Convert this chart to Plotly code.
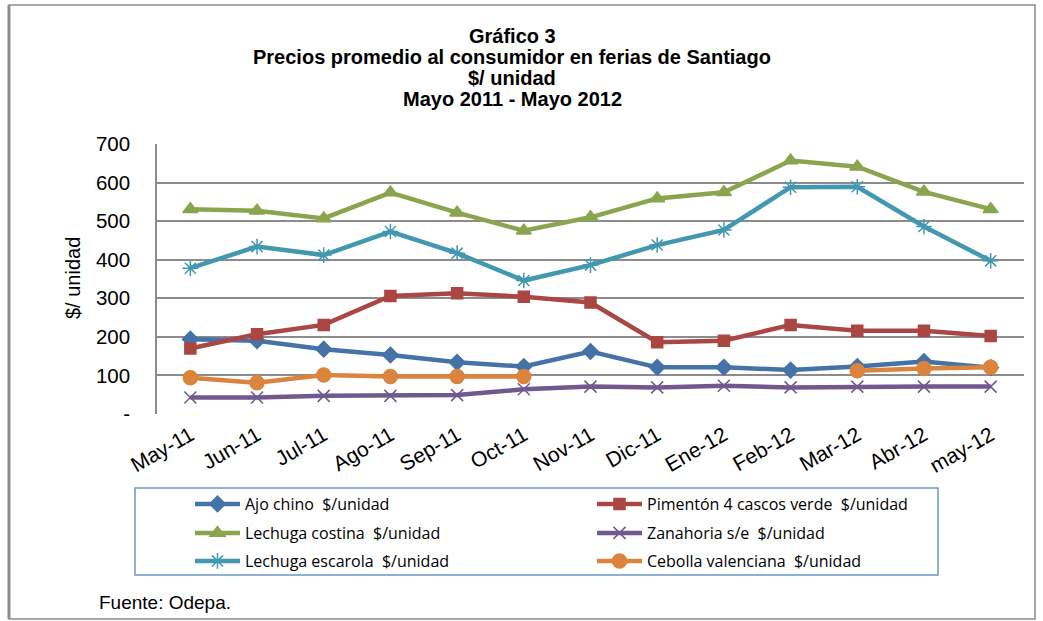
import plotly.graph_objects as go

categories = ["May-11", "Jun-11", "Jul-11", "Ago-11", "Sep-11", "Oct-11", "Nov-11",
              "Dic-11", "Ene-12", "Feb-12", "Mar-12", "Abr-12", "may-12"]

ajo_chino = [194, 190, 168, 153, 134, 123, 162, 121, 121, 114, 123, 136, 120]
pimenton = [170, 207, 231, 306, 313, 304, 289, 186, 190, 231, 216, 216, 202]
lechuga_costina = [531, 527, 507, 574, 522, 475, 510, 559, 575, 657, 641, 576, 531]
zanahoria = [43, 43, 47, 47, 49, 64, 71, 69, 73, 69, 71, 71, 71]
lechuga_escarola = [378, 434, 412, 473, 417, 346, 386, 438, 477, 588, 589, 486, 397]
cebolla = [94, 81, 101, 97, 97, 97, None, None, None, None, 112, 118, 121]

names = ["Ajo chino  $/unidad", "Pimentón 4 cascos verde  $/unidad",
         "Lechuga costina  $/unidad", "Zanahoria s/e  $/unidad",
         "Lechuga escarola  $/unidad", "Cebolla valenciana  $/unidad"]

ytick_vals = [0, 100, 200, 300, 400, 500, 600, 700]
ytick_text = ["-", "100", "200", "300", "400", "500", "600", "700"]

title_lines = ["Gráfico 3", "Precios promedio al consumidor en ferias de Santiago",
               "$/ unidad", "Mayo 2011 - Mayo 2012"]

W, H = 1043, 621
L, R, T, B = 157, 1024, 144, 414
pw, ph = R - L, B - T

def px(x):
    return (x - L) / pw

def py(y):
    return (B - y) / ph

FONT = "Liberation Sans, Arial, sans-serif"

series = [
    (ajo_chino, "#4572A7", "diamond", 12, "legend"),
    (pimenton, "#AA4643", "square", 11, "legend"),
    (lechuga_costina, "#89A54E", "triangle-up", 13, "legend2"),
    (zanahoria, "#71588F", "x-thin-open", 12, "legend2"),
    (lechuga_escarola, "#4198AF", "asterisk-open", 13, "legend3"),
    (cebolla, "#DB843D", "circle", 14, "legend3"),
]

fig = go.Figure()
for (vals, color, sym, size, leg), name in zip(series, names):
    fig.add_trace(go.Scatter(
        x=categories, y=vals, name=name, mode="lines+markers",
        line=dict(color=color, width=4.5),
        marker=dict(symbol=sym, size=size, color=color,
                    line=dict(color=color, width=1.5)),
        connectgaps=False, legend=leg,
    ))

legend_common = dict(orientation="h", xanchor="left", yanchor="middle",
                     entrywidth=342, entrywidthmode="pixels", itemwidth=45,
                     font=dict(family="Open Sans, Lato, sans-serif", size=16, color="#000000"),
                     bgcolor="rgba(0,0,0,0)", borderwidth=0, traceorder="normal")

fig.update_layout(
    width=W, height=H,
    margin=dict(l=L, r=W - R, t=T, b=H - B, autoexpand=False),
    paper_bgcolor="white", plot_bgcolor="white",
    font=dict(family=FONT, color="#000000"),
    showlegend=True,
    legend=dict(x=px(190), y=py(504), **legend_common),
    legend2=dict(x=px(190), y=py(533), **legend_common),
    legend3=dict(x=px(190), y=py(561), **legend_common),
    xaxis=dict(type="category", range=[-0.5, 12.5], showgrid=False,
               showline=False, zeroline=False, ticks="",
               tickangle=-30, tickfont=dict(size=21, family=FONT),
               ticklabelstandoff=4, fixedrange=True),
    yaxis=dict(range=[0, 700], tickvals=ytick_vals, ticktext=ytick_text,
               showgrid=True, gridcolor="#8C8C8C", gridwidth=1.5,
               showline=True, linecolor="#8C8C8C", linewidth=1.5,
               zeroline=False, ticks="",
               tickfont=dict(size=20.5, family=FONT),
               ticklabelstandoff=21, fixedrange=True),
)

title_y = [36, 57, 78, 99]
for t, yy in zip(title_lines, title_y):
    fig.add_annotation(text="<b>" + t + "</b>", xref="paper", yref="paper",
                       x=px(512), y=py(yy), xanchor="center", yanchor="middle",
                       showarrow=False,
                       font=dict(size=20, family=FONT, color="#000000"))

fig.add_annotation(text="$/ unidad", xref="paper", yref="paper", x=px(73), y=py(278),
                   xanchor="center", yanchor="middle", textangle=-90, showarrow=False,
                   font=dict(size=20, family=FONT, color="#000000"))

fig.add_annotation(text="Fuente: Odepa.", xref="paper", yref="paper", x=px(97), y=py(602),
                   xanchor="left", yanchor="middle", showarrow=False,
                   font=dict(size=19, family=FONT, color="#000000"))

# legend box
fig.add_shape(type="rect", xref="paper", yref="paper",
              x0=px(135), x1=px(938), y0=py(488), y1=py(575),
              line=dict(color="#6E97CC", width=1.5), fillcolor="rgba(0,0,0,0)", layer="above")
# outer frame
fig.add_shape(type="rect", xref="paper", yref="paper",
              x0=px(9), x1=px(1035), y0=py(5), y1=py(619),
              line=dict(color="#8C8C8C", width=1.5), fillcolor="rgba(0,0,0,0)", layer="above")
fig.add_shape(type="line", xref="paper", yref="paper",
              x0=px(9), x1=px(9), y0=py(5), y1=py(619),
              line=dict(color="#8C8C8C", width=3), layer="above")

fig.write_html("out.html", config={"displayModeBar": False},
               post_script="document.body.style.margin='0';document.body.style.overflow='hidden';")
